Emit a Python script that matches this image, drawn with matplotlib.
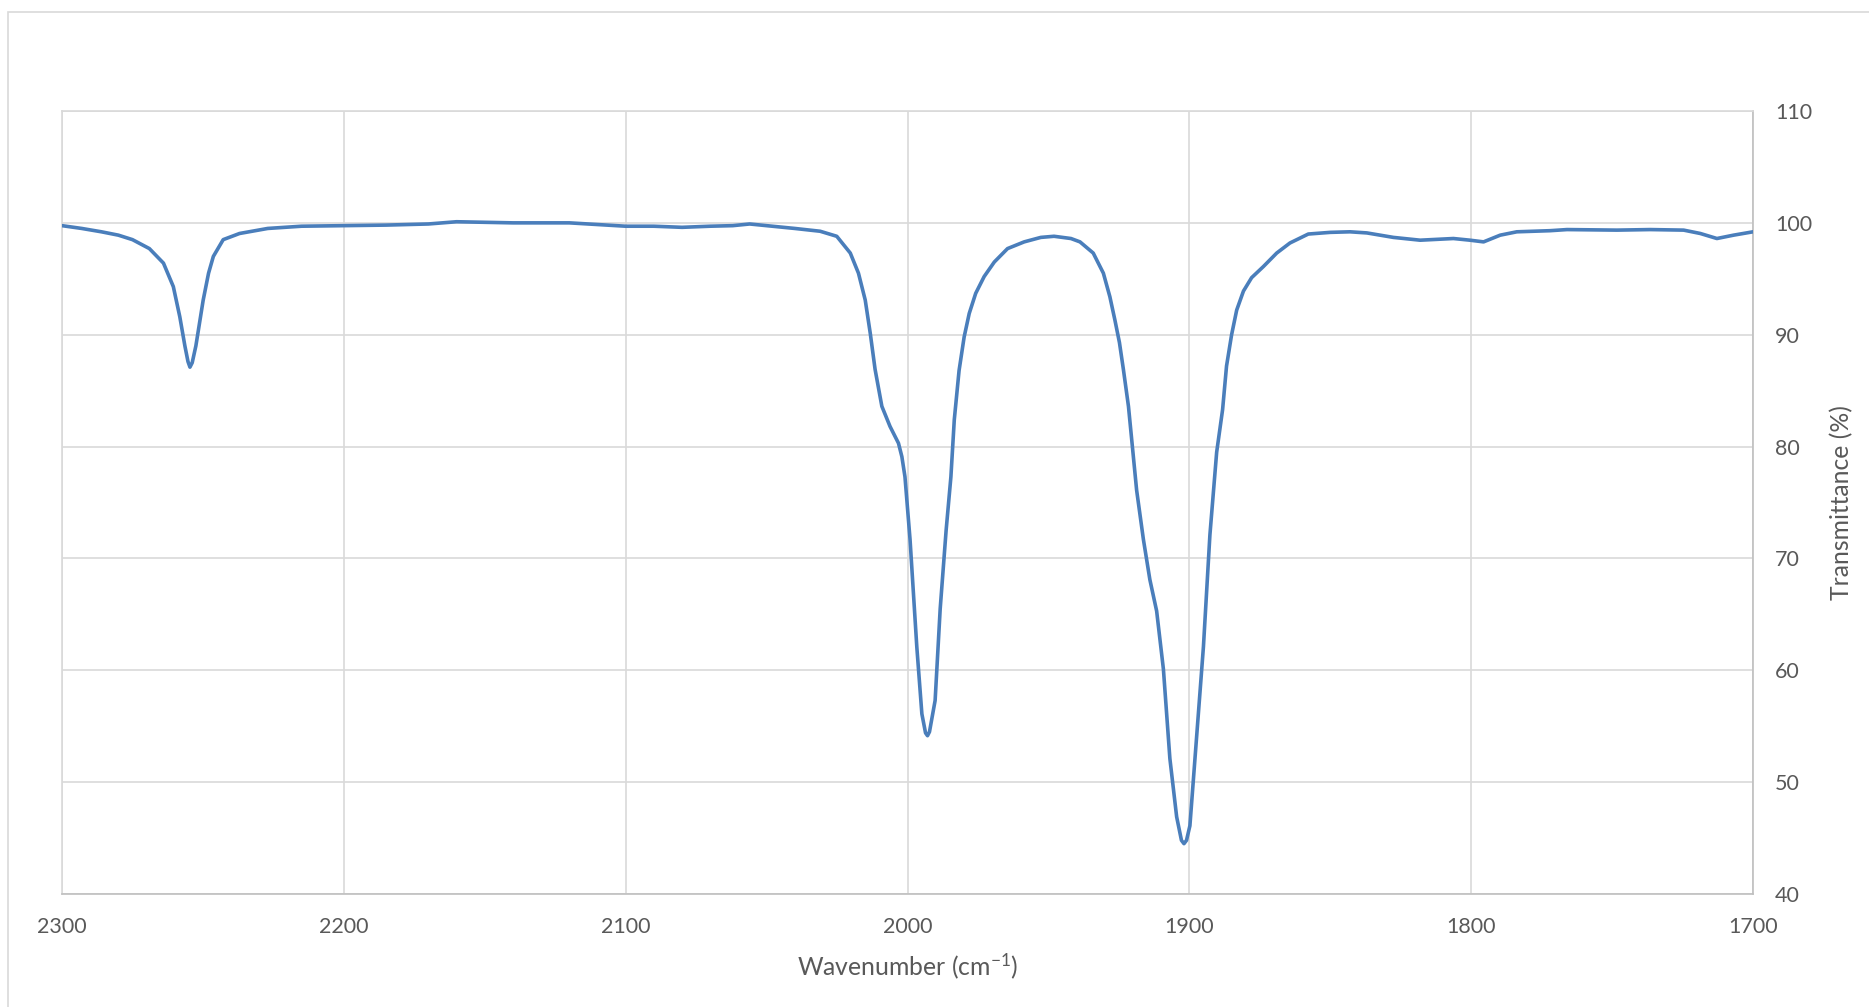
import numpy as np
import matplotlib
matplotlib.use('Agg')
import matplotlib.pyplot as plt
from matplotlib.patches import Rectangle

plt.rcParams['font.family'] = ['Lato', 'DejaVu Sans']
plt.rcParams['mathtext.default'] = 'regular'

wavenumber = [2300, 2293, 2286, 2280, 2275, 2269, 2264, 2260.5, 2258.2, 2256.4,
              2255.3, 2254.6, 2253.8, 2252.5, 2249.9, 2248, 2246.3, 2242.8, 2237, 2227,
              2215, 2200, 2185, 2170, 2160, 2140, 2120, 2110, 2100, 2090,
              2080, 2070, 2062, 2056, 2048, 2040, 2031, 2025.1, 2020.3, 2017.4,
              2015.0, 2013.2, 2011.5, 2009.1, 2006.2, 2003.2, 2002.0, 2000.9, 1999.1, 1996.7,
              1994.9, 1993.6, 1992.9, 1992.2, 1990.2, 1988.4, 1986.3, 1984.6, 1983.4, 1981.7,
              1979.9, 1978.1, 1975.8, 1972.8, 1969.2, 1964.5, 1958.6, 1952.7, 1948.0, 1942.0,
              1938.8, 1934.1, 1930.5, 1928.2, 1926.4, 1924.8, 1923.4, 1921.6, 1918.7, 1916.3,
              1914.0, 1911.6, 1909.2, 1906.9, 1904.5, 1902.8, 1901.9, 1901.0, 1899.8, 1897.4,
              1895.0, 1892.7, 1890.3, 1888.2, 1886.8, 1885.0, 1883.2, 1880.8, 1877.9, 1873.7,
              1869.0, 1864.3, 1857.8, 1850.0, 1843.0, 1837.0, 1827.6, 1818.1, 1806.3, 1800.4,
              1795.6, 1789.7, 1783.8, 1772.0, 1766.0, 1748.3, 1736.5, 1724.6, 1718.7, 1712.8,
              1706.9, 1700]
transmittance = [99.75, 99.5, 99.2, 98.9, 98.5, 97.7, 96.4, 94.3, 91.6, 89.0,
                 87.6, 87.1, 87.5, 89.0, 93.1, 95.5, 97.0, 98.5, 99.05, 99.5,
                 99.7, 99.75, 99.8, 99.9, 100.1, 100.0, 100.0, 99.85, 99.7, 99.7,
                 99.6, 99.7, 99.75, 99.9, 99.7, 99.5, 99.25, 98.8, 97.3, 95.5,
                 93.1, 90.1, 86.9, 83.6, 81.8, 80.3, 79.1, 77.3, 71.7, 62.1,
                 56.1, 54.4, 54.15, 54.5, 57.3, 65.5, 72.5, 77.3, 82.4, 86.8,
                 89.8, 91.9, 93.7, 95.2, 96.5, 97.7, 98.3, 98.7, 98.8, 98.6,
                 98.3, 97.3, 95.5, 93.4, 91.3, 89.3, 86.9, 83.6, 76.1, 71.7,
                 68.1, 65.3, 60.1, 52.1, 46.9, 44.8, 44.5, 44.8, 46.1, 54.1,
                 62.1, 72.1, 79.5, 83.3, 87.2, 90.0, 92.2, 93.9, 95.1, 96.1,
                 97.3, 98.2, 99.0, 99.15, 99.2, 99.1, 98.7, 98.45, 98.6, 98.45,
                 98.3, 98.9, 99.2, 99.3, 99.4, 99.35, 99.4, 99.35, 99.05, 98.6,
                 98.9, 99.2]

x_ticks = [2300, 2200, 2100, 2000, 1900, 1800, 1700]
y_ticks = [40, 50, 60, 70, 80, 90, 100, 110]

W, H = 1869, 1007
fig = plt.figure(figsize=(W / 100, H / 100), dpi=100)
ax = fig.add_axes([62 / W, 1 - 894 / H, (1753 - 62) / W, (894 - 111) / H])

# outer chart-area border
fig.patches.append(Rectangle((8 / W, -0.05), 1.1, 1 - 12 / H + 0.05, transform=fig.transFigure,
                             fill=False, edgecolor='#d9d9d9', linewidth=1.2))

ax.plot(wavenumber, transmittance, color='#4a7ebb', linewidth=2.6,
        solid_joinstyle='round', solid_capstyle='round', zorder=3)

ax.set_xlim(2300, 1700)
ax.set_ylim(40, 110)
ax.set_xticks(x_ticks)
ax.set_yticks(y_ticks)
ax.grid(True, color='#d9d9d9', linewidth=1.2)
ax.set_axisbelow(True)
ax.yaxis.tick_right()
ax.yaxis.set_label_position('right')
ax.tick_params(length=0, labelsize=15.5, labelcolor='#595959')
ax.tick_params(axis='x', pad=16.5)
ax.tick_params(axis='y', pad=16)

for side in ['top', 'left']:
    ax.spines[side].set_color('#d9d9d9')
for side in ['bottom', 'right']:
    ax.spines[side].set_color('#bfbfbf')
for s in ax.spines.values():
    s.set_linewidth(1.2)

ax.set_xlabel('Wavenumber (cm$^{-1}$)', fontsize=17.8, color='#595959', labelpad=10)
ax.set_ylabel('Transmittance (%)', fontsize=17.8, color='#595959', labelpad=13,
              rotation=90)

fig.savefig('out.png', dpi=100, facecolor='white')
